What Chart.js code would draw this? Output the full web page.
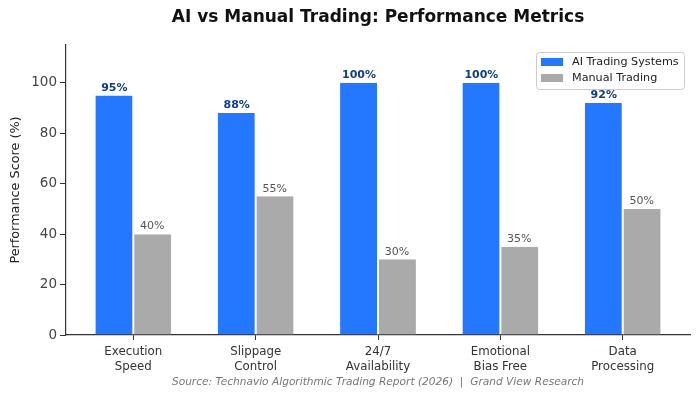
<!DOCTYPE html>
<html>
<head>
<meta charset="utf-8">
<script src="https://cdn.jsdelivr.net/npm/chart.js@4"></script>
<style>
  html, body { margin: 0; padding: 0; background: #fff; }
  #wrap { width: 700px; height: 400px; }
</style>
</head>
<body>
<div id="wrap"><canvas id="tradingChart"></canvas></div>
<script>
const categories = [
    ['Execution', 'Speed'],
    ['Slippage', 'Control'],
    ['24/7', 'Availability'],
    ['Emotional', 'Bias Free'],
    ['Data', 'Processing']
];
const aiScores = [95, 88, 100, 100, 92];
const manualScores = [40, 55, 30, 35, 50];
const yTicks = [0, 20, 40, 60, 80, 100];

const FONT = "'DejaVu Sans', sans-serif";
const AI_BLUE = '#2478FF';
const MANUAL_GRAY = '#AAAAAA';

// title, source line, value labels and the framed legend
const decorPlugin = {
    id: 'decor',
    afterDatasetsDraw(chart) {
        const ctx = chart.ctx;
        const area = chart.chartArea;
        const cx = (area.left + area.right) / 2;
        ctx.save();

        ctx.fillStyle = '#111';
        ctx.font = 'bold 17px ' + FONT;
        ctx.textAlign = 'center';
        ctx.textBaseline = 'middle';
        ctx.fillText('AI vs Manual Trading: Performance Metrics', cx, 18);

        ctx.fillStyle = '#777';
        ctx.font = 'italic 10.6px ' + FONT;
        ctx.fillText('Source: Technavio Algorithmic Trading Report (2026)  |  Grand View Research', cx, 382);

        // legend box (drawn before the labels so "92%" stays visible)
        const lx = 536, ly = 52, lw = 148, lh = 37;
        ctx.fillStyle = 'rgba(255,255,255,0.85)';
        ctx.strokeStyle = '#ccc';
        ctx.lineWidth = 1;
        ctx.beginPath();
        ctx.roundRect(lx + 0.5, ly + 0.5, lw, lh, 3);
        ctx.fill();
        ctx.stroke();
        ctx.font = '11.2px ' + FONT;
        ctx.textAlign = 'left';
        chart.data.datasets.forEach((ds, di) => {
            const y = ly + 10 + di * 16;
            ctx.fillStyle = ds.backgroundColor;
            ctx.fillRect(lx + 5, y - 4, 22, 8);
            ctx.fillStyle = '#222';
            ctx.fillText(ds.label, lx + 36, y);
        });

        ctx.textAlign = 'center';
        ctx.textBaseline = 'bottom';
        chart.data.datasets.forEach((ds, di) => {
            const meta = chart.getDatasetMeta(di);
            meta.data.forEach((bar, i) => {
                if (di === 0) {
                    ctx.fillStyle = '#0D3D91';
                    ctx.font = 'bold 11px ' + FONT;
                } else {
                    ctx.fillStyle = '#555';
                    ctx.font = '11px ' + FONT;
                }
                ctx.fillText(ds.data[i].y + '%', bar.x, bar.y - 2);
            });
        });
        ctx.restore();
    }
};

new Chart(document.getElementById('tradingChart'), {
    type: 'bar',
    data: {
        datasets: [
            {
                label: 'AI Trading Systems',
                data: aiScores.map((v, i) => ({ x: i, y: v })),
                backgroundColor: AI_BLUE,
                borderColor: '#ffffff',
                borderWidth: { right: 1, left: 0, top: 0, bottom: 0 }
            },
            {
                label: 'Manual Trading',
                data: manualScores.map((v, i) => ({ x: i, y: v })),
                backgroundColor: MANUAL_GRAY,
                borderColor: '#ffffff',
                borderWidth: { left: 1, right: 0, top: 0, bottom: 0 }
            }
        ]
    },
    options: {
        responsive: true,
        maintainAspectRatio: false,
        animation: false,
        categoryPercentage: 0.62,
        barPercentage: 1,
        layout: { padding: { top: 45, right: 10, left: 0, bottom: 0 } },
        plugins: {
            legend: { display: false },
            title: { display: false },
            tooltip: { enabled: false }
        },
        scales: {
            x: {
                type: 'linear',
                min: -0.55,
                max: 4.55,
                offset: false,
                afterBuildTicks: (scale) => {
                    scale.ticks = categories.map((_, i) => ({ value: i }));
                },
                afterFit: (scale) => { scale.height = 65; },
                ticks: {
                    autoSkip: false,
                    maxRotation: 0,
                    padding: 4,
                    color: '#333',
                    font: { family: FONT, size: 11.8, lineHeight: 1.27 },
                    callback: (value) => categories[value] || ''
                },
                grid: {
                    offset: false,
                    drawOnChartArea: false,
                    drawTicks: true,
                    tickLength: 5,
                    color: '#333'
                },
                border: { display: true, color: '#333', width: 1.2 }
            },
            y: {
                min: 0,
                max: 115,
                afterBuildTicks: (scale) => {
                    scale.ticks = yTicks.map(v => ({ value: v }));
                },
                afterFit: (scale) => { scale.width = 66; },
                ticks: {
                    padding: 3,
                    color: '#444',
                    font: { family: FONT, size: 13.5 }
                },
                grid: {
                    drawOnChartArea: false,
                    drawTicks: true,
                    tickLength: 6,
                    color: '#333'
                },
                border: { display: true, color: '#333', width: 1.2 },
                title: {
                    display: true,
                    text: 'Performance Score (%)',
                    color: '#222',
                    padding: { top: 8, bottom: 0 },
                    font: { family: FONT, size: 12.8 }
                }
            }
        }
    },
    plugins: [decorPlugin]
});
</script>
</body>
</html>
